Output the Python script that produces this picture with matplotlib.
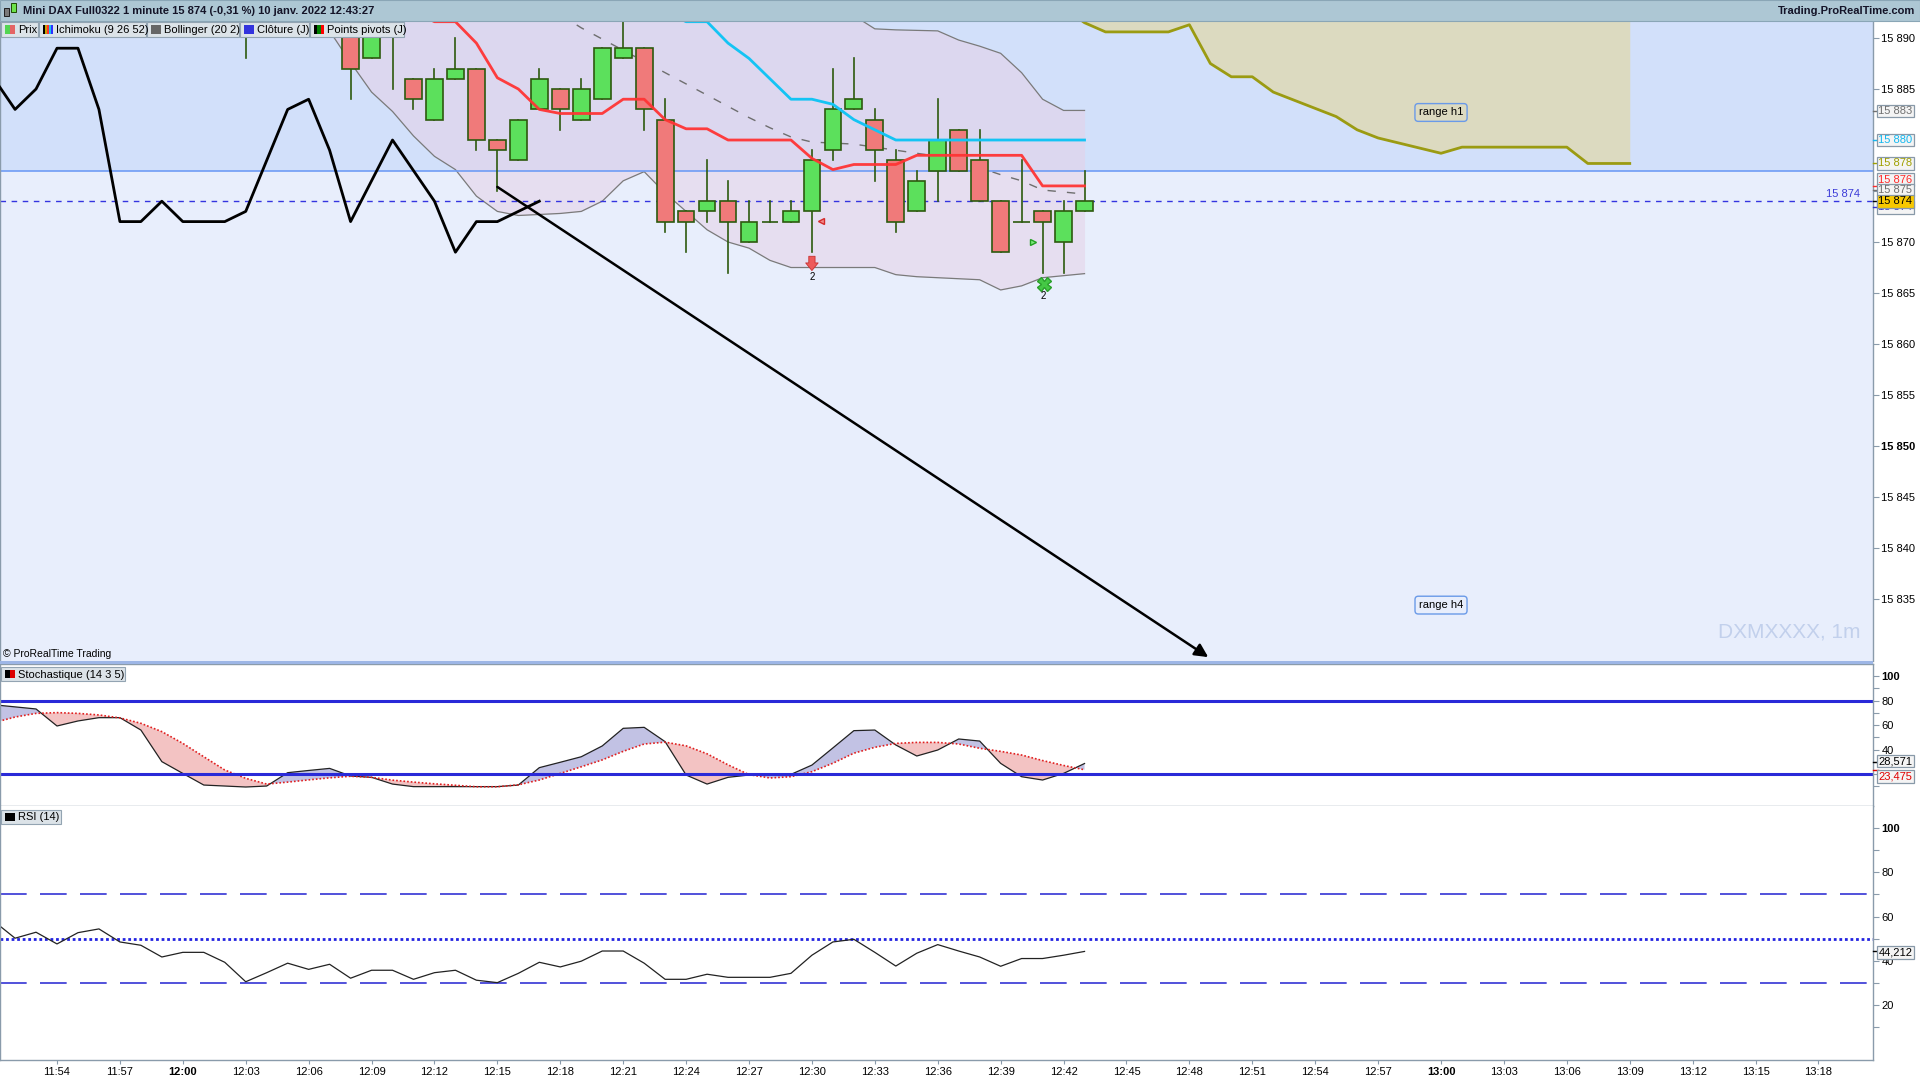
import matplotlib
matplotlib.use("Agg")
import matplotlib.pyplot as plt
import matplotlib.transforms as mtransforms
from matplotlib.patches import Rectangle
import numpy as np

plt.rcParams['font.family'] = ['Liberation Sans', 'DejaVu Sans']

W, H = 1920, 1080

# ---------------- data (minute index, 0 = 11:54) ----------------
candle_min = [9, 14, 15, 16, 17, 18, 19, 20, 21, 22, 23, 24, 25, 26, 27, 28, 29,
              30, 31, 32, 33, 34, 35, 36, 37, 38, 39, 40, 41, 42, 43, 44, 45, 46,
              47, 48, 49]
opens = [15895, 15893, 15888, 15894, 15886, 15882, 15886, 15887, 15880, 15878, 15883,
         15885, 15882, 15884, 15888, 15889, 15882, 15873, 15873, 15874, 15870, 15872,
         15872, 15873, 15879, 15883, 15882, 15878, 15873, 15877, 15881, 15878, 15874,
         15872, 15873, 15870, 15873]
highs = [15897, 15894, 15894, 15895, 15886, 15887, 15890, 15887, 15880, 15882, 15887,
         15885, 15886, 15889, 15892, 15889, 15884, 15873, 15878, 15876, 15874, 15874,
         15874, 15879, 15887, 15888, 15883, 15879, 15877, 15884, 15881, 15881, 15874,
         15878, 15873, 15874, 15877]
lows = [15888, 15884, 15888, 15885, 15883, 15882, 15886, 15879, 15875, 15878, 15883,
        15881, 15882, 15884, 15888, 15881, 15871, 15869, 15872, 15867, 15870, 15872,
        15872, 15869, 15878, 15883, 15876, 15871, 15873, 15874, 15877, 15874, 15869,
        15872, 15867, 15867, 15873]
closes = [15894, 15887, 15893, 15893, 15884, 15886, 15887, 15880, 15879, 15882, 15886,
          15883, 15885, 15889, 15889, 15883, 15872, 15872, 15874, 15872, 15872, 15872,
          15873, 15878, 15883, 15884, 15879, 15872, 15876, 15880, 15877, 15874, 15869,
          15872, 15872, 15873, 15874]

tenkan_min = list(range(17, 50))
tenkan = [15892.6, 15891.6, 15891.6, 15889.5, 15886.1, 15885.0, 15883.0, 15882.6, 15882.6,
          15882.6, 15884.0, 15884.0, 15882.0, 15881.1, 15881.1, 15880.0, 15880.0, 15880.0,
          15880.0, 15878.2, 15877.1, 15877.6, 15877.6, 15877.6, 15878.5, 15878.5, 15878.5,
          15878.5, 15878.5, 15878.5, 15875.5, 15875.5, 15875.5]
kijun_min = list(range(29, 50))
kijun = [15892.6, 15891.6, 15891.6, 15889.5, 15888.0, 15886.0, 15884.0, 15884.0, 15883.5,
         15882.0, 15881.0, 15880.0, 15880.0, 15880.0, 15880.0, 15880.0, 15880.0, 15880.0,
         15880.0, 15880.0, 15880.0]
kumo_min = list(range(48, 76))
kumo = [15893.0, 15891.5, 15890.6, 15890.6, 15890.6, 15890.6, 15891.3, 15887.5, 15886.2,
        15886.2, 15884.7, 15883.9, 15883.1, 15882.3, 15881.0, 15880.2, 15879.7, 15879.2,
        15878.7, 15879.3, 15879.3, 15879.3, 15879.3, 15879.3, 15879.3, 15877.7, 15877.7,
        15877.7]

bb_low_min = list(range(12, 50))
bb_low = [15893.5, 15890.7, 15887.6, 15884.7, 15882.8, 15880.4, 15878.4, 15877.1, 15874.5,
          15873.0, 15872.6, 15872.7, 15872.8, 15873.0, 15874.0, 15876.0, 15876.9, 15874.8,
          15873.0, 15871.2, 15870.0, 15869.4, 15868.2, 15867.5, 15867.5, 15867.5, 15867.5,
          15867.5, 15866.8, 15866.6, 15866.5, 15866.4, 15866.3, 15865.3, 15865.7, 15866.5,
          15866.7, 15866.9]
bb_up_min = list(range(38, 50))
bb_up = [15892.2, 15890.9, 15890.8, 15890.75, 15890.7, 15889.8, 15889.2, 15888.5, 15886.6,
         15884.0, 15882.9, 15882.9]
bb_mid_min = list(range(24, 50))
bb_mid = [15892.3, 15891.0, 15889.9, 15888.8, 15887.7, 15886.6, 15885.5, 15884.4, 15883.3,
          15882.2, 15881.2, 15880.3, 15879.8, 15879.7, 15879.6, 15879.3, 15879.0, 15878.7,
          15878.4, 15878.0, 15877.3, 15876.6, 15876.0, 15875.1, 15874.9, 15874.7]

prev_close = 15877
last_price = 15874

osc_min = list(range(-3, 50))
stoch_k = [76.5, 74.8, 73.1, 59.2, 63.3, 66.0, 66.0, 55.9, 30.1, 20.5, 11.0, 10.2, 9.4,
           10.2, 21.1, 22.9, 24.6, 18.4, 17.3, 11.8, 9.7, 9.7, 9.7, 9.7, 9.7, 11.0, 25.2,
           29.6, 34.1, 42.9, 57.3, 58.1, 46.4, 19.2, 11.8, 17.3, 19.2, 19.5, 19.7, 27.3,
           41.3, 55.4, 55.9, 43.7, 34.7, 39.6, 48.6, 46.9, 28.7, 17.8, 15.1, 20.5, 28.571]
stoch_d = [62.0, 66.5, 69.5, 70.1, 69.5, 68.2, 65.8, 61.4, 54.6, 45.0, 34.1, 23.3, 16.5,
           11.8, 13.4, 15.2, 16.9, 18.2, 17.3, 15.0, 13.4, 12.0, 10.8, 9.6, 9.6, 11.2, 15.1,
           20.5, 25.9, 31.5, 38.5, 44.5, 46.0, 43.0, 36.5, 27.5, 19.5, 16.8, 17.8, 21.9,
           28.8, 37.0, 41.8, 45.0, 45.8, 45.8, 44.5, 41.0, 38.5, 35.5, 31.0, 27.0, 23.475]
rsi = [57.8, 50.2, 52.9, 47.6, 52.7, 54.4, 48.5, 47.0, 41.7, 43.8, 43.8, 39.3, 30.5, 34.6,
       38.9, 36.1, 38.4, 32.1, 35.7, 35.7, 31.6, 34.6, 35.7, 31.2, 30.1, 34.3, 39.3, 37.2,
       39.8, 44.4, 44.4, 38.9, 31.6, 31.6, 33.9, 32.5, 32.5, 32.5, 34.3, 42.5, 48.5, 49.7,
       43.8, 37.6, 43.4, 47.3, 44.4, 41.7, 37.5, 41.0, 41.0, 42.5, 44.212]

tick_min = list(range(0, 85, 3))
tick_labels = ['11:54', '11:57', '12:00', '12:03', '12:06', '12:09', '12:12', '12:15',
               '12:18', '12:21', '12:24', '12:27', '12:30', '12:33', '12:36', '12:39',
               '12:42', '12:45', '12:48', '12:51', '12:54', '12:57', '13:00', '13:03',
               '13:06', '13:09', '13:12', '13:15', '13:18']
price_ticks = [15835, 15840, 15845, 15850, 15855, 15860, 15865, 15870, 15875, 15880,
               15885, 15890]

# ---------------- figure / layout helpers ----------------
def px_rect(x0, y0, x1, y1):
    return [x0 / W, 1 - y1 / H, (x1 - x0) / W, (y1 - y0) / H]

fig = plt.figure(figsize=(W / 100, H / 100), dpi=100)
fig.patch.set_facecolor('white')

def fig_box(x0, y0, x1, y1, **kw):
    fig.add_artist(Rectangle((x0 / W, 1 - y1 / H), (x1 - x0) / W, (y1 - y0) / H,
                             transform=fig.transFigure, **kw))

def fig_txt(x, y, s, **kw):
    fig.text(x / W, 1 - y / H, s, **kw)

ax_p = fig.add_axes(px_rect(0, 21.5, 1873, 661))
ax_s = fig.add_axes(px_rect(0, 664, 1873, 806))
ax_r = fig.add_axes(px_rect(0, 806, 1873, 1060))

x_lim = (-57 / 20.97, (1873 - 57) / 20.97)
frame = '#8a9bab'
for ax in (ax_p, ax_s, ax_r):
    ax.set_xlim(*x_lim)
    ax.yaxis.tick_right()
    for s in ax.spines.values():
        s.set_color(frame)
        s.set_linewidth(1)
    ax.tick_params(axis='y', direction='out', length=4, width=0.8, color=frame,
                   labelsize=8, pad=2)
    ax.tick_params(axis='x', bottom=False, labelbottom=False)
ax_r.spines['top'].set_visible(False)

# ---------------- price panel ----------------
ax_p.set_ylim(15828.92, 15891.62)
ax_p.set_facecolor('#e8eefc')
ax_p.axhspan(prev_close, 15900, color='#d2e0fa', zorder=0, lw=0)
ax_p.spines['top'].set_visible(False)
ax_p.spines['bottom'].set_visible(False)

# ichimoku cloud
ax_p.fill_between(kumo_min, kumo, 15900, color='#dcdac0', zorder=1, lw=0)
ax_p.plot(kumo_min, kumo, color='#9b9b12', lw=2, zorder=2)

# bollinger
up_full = np.full(len(bb_low_min), 15900.0)
up_full[bb_low_min.index(bb_up_min[0]):] = bb_up
ax_p.fill_between(bb_low_min, bb_low, up_full, color='#e6cfe6', alpha=0.5, zorder=1.5, lw=0)
ax_p.plot(bb_low_min, bb_low, color='#7a7a7a', lw=0.9, zorder=2)
ax_p.plot(bb_up_min, bb_up, color='#7a7a7a', lw=0.9, zorder=2)
ax_p.plot(bb_mid_min, bb_mid, color='#6e6e6e', lw=1, ls=(0, (6, 8)), zorder=2)

ax_p.axhline(prev_close, color='#6f9cf5', lw=1.2, zorder=2)
ax_p.axhline(last_price, color='#3434e0', lw=1, ls=(0, (4, 4)), zorder=2)

# candles
edge = '#2d5a0e'
for m, o, hi, lo, c in zip(candle_min, opens, highs, lows, closes):
    ax_p.plot([m, m], [lo, hi], color=edge, lw=1.2, zorder=3)
    fc = '#5ce05c' if c >= o else '#f07a7a'
    ax_p.add_patch(Rectangle((m - 0.4, min(o, c)), 0.8, abs(c - o), fc=fc, ec=edge,
                             lw=1.2, zorder=4))

# tenkan / kijun / chikou
ax_p.plot(tenkan_min, tenkan, color='#ff3434', lw=2, zorder=5, alpha=0.95)
ax_p.plot(kijun_min, kijun, color='#14c4f4', lw=2, zorder=5)
ax_p.plot(np.array(candle_min[1:]) - 26, closes[1:], color='black', lw=2, zorder=5)

# drawn arrow
ax_p.annotate('', xy=(54.9, 15829.3), xytext=(21, 15875.4),
              arrowprops=dict(arrowstyle='-|>', color='black', lw=1.8, mutation_scale=20,
                              shrinkA=0, shrinkB=0), zorder=6)

# signals
ax_p.annotate('', xy=(36, 15867.2), xytext=(36, 15868.6),
              arrowprops=dict(arrowstyle='simple,head_width=0.9,head_length=0.55,tail_width=0.45',
                              fc='#ee5a5a', ec='#c83030', lw=0.6, shrinkA=0, shrinkB=0),
              zorder=6)
ax_p.text(36, 15866.6, '2', ha='center', va='center', fontsize=7, zorder=6)
ax_p.plot(36.45, 15872.1, marker='<', ms=5, mfc='#f38a8a', mec='#d42a2a', zorder=6)
ax_p.plot(46.55, 15870.0, marker='>', ms=5, mfc='#7de87d', mec='#22a022', zorder=6)
ax_p.plot(47.05, 15865.9, marker='X', ms=10, color='#45c845', mec='#2aa02a', zorder=6)
ax_p.text(47.05, 15864.7, '2', ha='center', va='center', fontsize=7, zorder=6)

# labels inside price panel
for txt, yv in (('range h1', 15882.7), ('range h4', 15834.4)):
    ax_p.text(66, yv, txt, ha='center', va='center', fontsize=8, zorder=6,
              bbox=dict(boxstyle='round,pad=0.35,rounding_size=0.3', fc='none',
                        ec='#6a9ae8', lw=1))
ax_p.text(86.0, last_price + 0.25, '15 874', ha='right', va='bottom', fontsize=8,
          color='#3a3ad8', zorder=6)
ax_p.text(0.0015, 0.003, '© ProRealTime Trading', transform=ax_p.transAxes, fontsize=7.5,
          ha='left', va='bottom', zorder=6)
ax_p.text(0.9935, 0.03, 'DXMXXXX, 1m', transform=ax_p.transAxes, fontsize=15,
          ha='right', va='bottom', color='#c2d0ec', zorder=1)

def fmt_price(v):
    return f"{int(round(v)):,}".replace(',', ' ')

ax_p.set_yticks(price_ticks)
ax_p.set_yticklabels([fmt_price(v) for v in price_ticks])
for lab in ax_p.get_yticklabels():
    if lab.get_text() == '15 850':
        lab.set_fontweight('bold')

def value_box(ax, y, txt, color, fc='#f4f4f4', ec='#8899a8', tick=None):
    tr = mtransforms.blended_transform_factory(fig.transFigure, ax.transData)
    ax.text(1878.5 / W, y, txt, transform=tr, ha='left', va='center', fontsize=8,
            color=color, clip_on=False, zorder=10,
            bbox=dict(boxstyle='square,pad=0.12', fc=fc, ec=ec, lw=0.9))
    ax.plot([1873 / W, 1878 / W], [y if tick is None else tick] * 2, transform=tr,
            color=color, lw=1, clip_on=False, zorder=9)

value_box(ax_p, 15882.85, fmt_price(bb_up[-1]), '#707070')
value_box(ax_p, 15880.0, fmt_price(kijun[-1]), '#14b8f0')
value_box(ax_p, kumo[-1], fmt_price(kumo[-1]), '#a0a000')
value_box(ax_p, 15876.1, fmt_price(tenkan[-1]), '#ff2a2a', tick=tenkan[-1])
value_box(ax_p, 15875.1, fmt_price(bb_mid[-1]), '#707070')
value_box(ax_p, 15873.4, fmt_price(last_price), '#3030d0')
value_box(ax_p, 15874.0, fmt_price(closes[-1]), 'black', fc='#f8c800', ec='#8899a8')

# ---------------- stochastic panel ----------------
k = np.array(stoch_k)
d = np.array(stoch_d)
ax_s.set_ylim(-6.1, 109.8)
ax_s.set_facecolor('white')
ax_s.fill_between(osc_min, k, d, where=k >= d, interpolate=True, color='#c2c2e4', lw=0)
ax_s.fill_between(osc_min, k, d, where=k < d, interpolate=True, color='#f3c3c3', lw=0)
ax_s.plot(osc_min, k, color='#222222', lw=0.9)
ax_s.plot(osc_min, d, color='#e02020', lw=1.2, ls=(0, (1, 1.2)))
ax_s.axhline(80, color='#2a2ad8', lw=2.2)
ax_s.axhline(20, color='#2a2ad8', lw=2.2)
s_ticks = [10, 20, 30, 40, 50, 60, 70, 80, 90, 100]
ax_s.set_yticks(s_ticks)
ax_s.set_yticklabels(['' if v not in (40, 60, 80, 100) else str(v) for v in s_ticks])
ax_s.get_yticklabels()[-1].set_fontweight('bold')
value_box(ax_s, 30.6, f"{stoch_k[-1]:.3f}".replace('.', ','), 'black', tick=stoch_k[-1] + 1)
value_box(ax_s, 17.8, f"{stoch_d[-1]:.3f}".replace('.', ','), '#e00000', tick=stoch_d[-1])

# ---------------- RSI panel ----------------
ax_r.set_ylim(-4.9, 110.0)
ax_r.set_facecolor('white')
ax_r.axhline(70, color='#3434d4', lw=1.2, ls=(0, (16, 8)))
ax_r.axhline(30, color='#3434d4', lw=1.2, ls=(0, (16, 8)))
ax_r.axhline(50, color='#2222e0', lw=2, ls=(0, (1, 1)))
ax_r.plot(osc_min, rsi, color='#222222', lw=0.9)
r_ticks = [10, 20, 30, 40, 50, 60, 70, 80, 90, 100]
ax_r.set_yticks(r_ticks)
ax_r.set_yticklabels(['' if v % 20 else str(v) for v in r_ticks])
ax_r.get_yticklabels()[-1].set_fontweight('bold')
value_box(ax_r, 43.8, f"{rsi[-1]:.3f}".replace('.', ','), 'black', tick=rsi[-1])

ax_r.tick_params(axis='x', bottom=True, labelbottom=True, direction='out', length=3,
                 color=frame, labelsize=8, pad=2)
ax_r.set_xticks(tick_min)
ax_r.set_xticklabels(tick_labels)
for lab in ax_r.get_xticklabels():
    lab.set_family(['Liberation Sans Narrow', 'Liberation Sans'])
    if lab.get_text() in ('12:00', '13:00'):
        lab.set_fontweight('bold')

# ---------------- chrome: title bar, legends, separators ----------------
fig_box(0, 0, W, 21, fc='#adc7d4', ec='#8aa6b6', lw=0.8)
fig_box(4, 8, 9, 16, fc='#7a7a7a', ec='#202020', lw=0.7)
fig_box(11, 3, 16, 12, fc='#6ce24a', ec='#1e4a00', lw=0.7)
fig_txt(23, 10.5, 'Mini DAX Full0322 1 minute 15 874 (-0,31 %) 10 janv. 2022 12:43:27',
        fontsize=8, fontweight='bold', color='#141428', va='center', ha='left')
fig_txt(1915, 10.5, 'Trading.ProRealTime.com', fontsize=8, fontweight='bold',
        color='#141428', va='center', ha='right')

def legend_button(x0, x1, y0, y1, text, colors, narrow=False):
    fig_box(x0, y0, x1, y1, fc='#dce3e8', ec='#93a4b2', lw=0.8, zorder=20)
    n = len(colors)
    iw = 10.0 / n
    for i, c in enumerate(colors):
        fig_box(x0 + 4 + i * iw, y0 + 3, x0 + 4 + (i + 1) * iw, y1 - 3, fc=c, ec='none',
                zorder=21)
    fam = ['Liberation Sans Narrow', 'Liberation Sans'] if narrow else ['Liberation Sans']
    fig_txt(x0 + 17, (y0 + y1) / 2 + 0.5, text, fontsize=8, va='center', ha='left',
            family=fam, zorder=22)

legend_button(1, 37.7, 22.5, 37, 'Prix', ['#52d552', '#e46464'])
legend_button(39, 145.7, 22.5, 37, 'Ichimoku (9 26 52)',
              ['#000000', '#c8a000', '#ff3030', '#18c0f0', '#3030ff'])
legend_button(147, 239, 22.5, 37, 'Bollinger (20 2)', ['#666666'])
legend_button(240, 309, 22.5, 37, 'Clôture (J)', ['#3333dd'])
legend_button(310, 404, 22.5, 37, 'Points pivots (J)', ['#000000', '#008000', '#ff0000'])
legend_button(1, 125, 667, 681, 'Stochastique (14 3 5)', ['#000000', '#dd0000'], narrow=True)
legend_button(1, 61, 810, 823.5, 'RSI (14)', ['#000000'], narrow=True)

fig_box(0, 661, 1873, 663.5, fc='#9db6e6', ec='none', zorder=15)

fig.savefig('out.png', dpi=100, facecolor='white')
